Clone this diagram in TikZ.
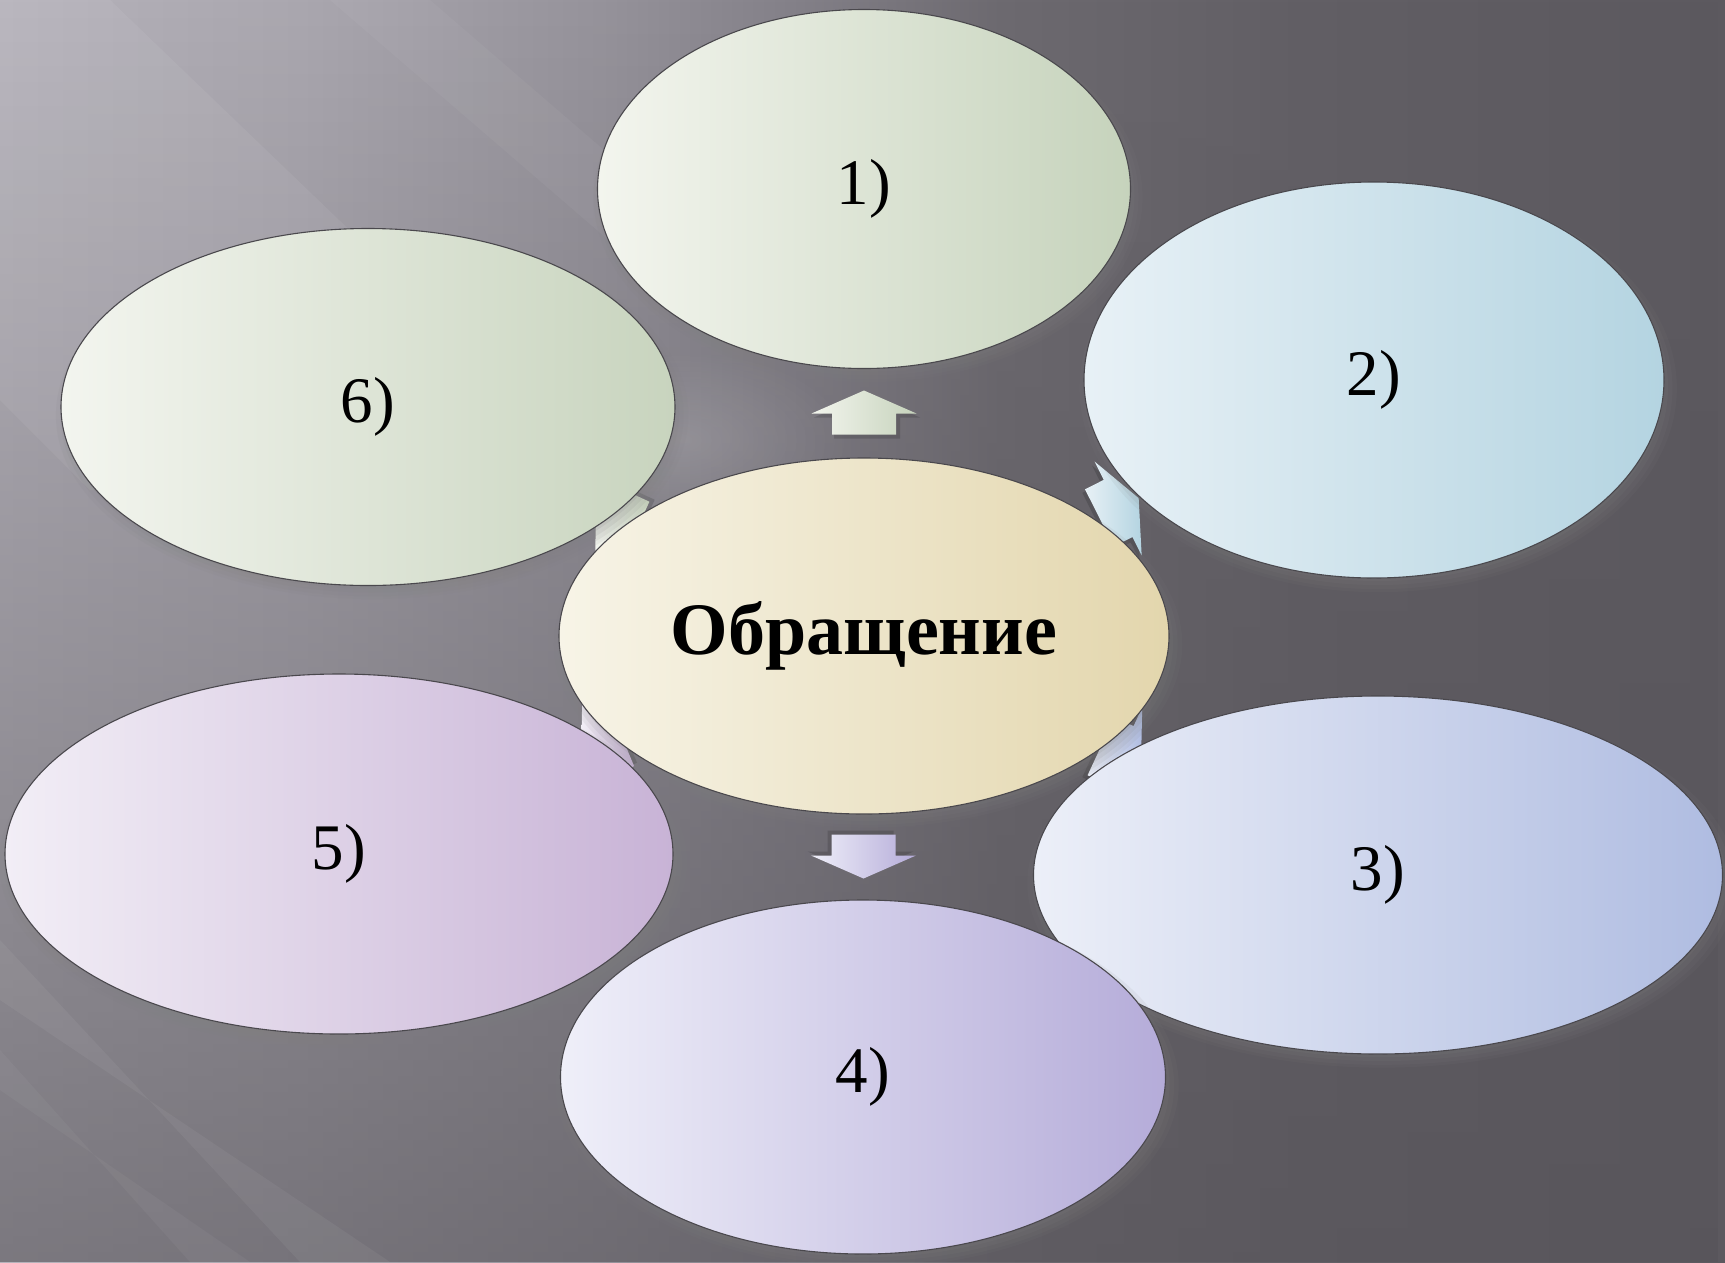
\documentclass[tikz,border=0pt]{standalone}
\usepackage{fontspec}
\setmainfont{Liberation Serif}
\usetikzlibrary{shapes.geometric,calc,shadows,fadings}
\definecolor{ea}{HTML}{F3F5EE}\definecolor{eb}{HTML}{C6D3BC}
\definecolor{fa}{HTML}{E8F1F6}\definecolor{fb}{HTML}{B4D4E1}
\definecolor{ga}{HTML}{ECEFF8}\definecolor{gb}{HTML}{AFBCE1}
\definecolor{ha}{HTML}{EFEFF9}\definecolor{hb}{HTML}{B5ACD9}
\definecolor{ia}{HTML}{F2EEF6}\definecolor{ib}{HTML}{C8B3D6}
\definecolor{ja}{HTML}{F3F5EF}\definecolor{jb}{HTML}{C8D4BE}
\definecolor{ca}{HTML}{F7F4E7}\definecolor{cb}{HTML}{E3D6AD}
\definecolor{edgegray}{HTML}{4A484D}
\definecolor{bg1}{HTML}{B6B3BB}\definecolor{bg2}{HTML}{AAA7AF}
\definecolor{bg3}{HTML}{96939B}\definecolor{bg4}{HTML}{838088}
\definecolor{bg5}{HTML}{6D6A70}\definecolor{bg6}{HTML}{625F65}
\definecolor{bg7}{HTML}{5C595F}\definecolor{bgdark}{HTML}{57545A}
\pgfdeclarehorizontalshading{bgsh}{100bp}{color(0bp)=(bg1); color(25bp)=(bg1); color(33.7bp)=(bg2); color(42.4bp)=(bg3); color(48.2bp)=(bg4); color(54bp)=(bg5); color(62.7bp)=(bg6); color(75bp)=(bg7); color(100bp)=(bg7)}
\tikzfading[name=fadedn, top color=transparent!100, middle color=transparent!88, bottom color=transparent!38]
\tikzfading[name=glowfade, inner color=transparent!0, outer color=transparent!100]
\tikzset{
  softshadow/.style={
    drop shadow={shadow xshift=4pt, shadow yshift=-8pt, opacity=0.09, shadow scale=1.03},
    drop shadow={shadow xshift=4pt, shadow yshift=-8pt, opacity=0.10, shadow scale=1.015},
    drop shadow={shadow xshift=4pt, shadow yshift=-7pt, opacity=0.12, shadow scale=1.0},
    drop shadow={shadow xshift=3pt, shadow yshift=-5pt, opacity=0.14, shadow scale=0.99}},
  oval/.style={ellipse, draw=edgegray, line width=1.1pt, inner sep=0pt, softshadow},
  numtext/.style={font=\fontsize{65}{70}\selectfont, text=black},
  pics/blkarrow/.style 2 args={code={
    \fill[black, opacity=0.14] (-30,26) -- (-30,5) -- (-50,5) -- (3,-18) -- (56,5) -- (36,5) -- (36,26) -- cycle;
    \shade[left color=#1, right color=#2] (-32,22) -- (-32,1) -- (-52.5,1) -- (0,-22) -- (52.5,1) -- (32,1) -- (32,22) -- cycle;
  }}
}
\newcommand\lowered[1]{\raisebox{-6pt}{#1}}
\begin{document}
\begin{tikzpicture}[x=1pt,y=-1pt]
\useasboundingbox (0,0) rectangle (1725,1262);
% background
\begin{scope}
\clip (0,0) rectangle (1725,1262);
\shade[shading=bgsh] (0,0) rectangle (1725,1262);
\fill[bgdark, path fading=fadedn] (0,0) rectangle (1725,1262);
\fill[white, opacity=0.06] (0,0) -- (110,0) -- (620,490) -- (90,490) -- (0,400) -- cycle;
\fill[white, opacity=0.04] (330,0) -- (430,0) -- (720,250) -- (620,250) -- cycle;
\fill[white, opacity=0.05] (0,940) -- (0,1000) -- (390,1262) -- (300,1262) -- cycle;
\fill[white, opacity=0.04] (0,1050) -- (0,1090) -- (250,1262) -- (190,1262) -- cycle;
\fill[white, opacity=0.14, path fading=glowfade] (680,440) ellipse [x radius=170, y radius=90];
\end{scope}
% positions
\coordinate (pc) at (864,636);
\coordinate (p1) at (864,189);
\coordinate (p2) at (1374,380);
\coordinate (p3) at (1378,875);
\coordinate (p4) at (863,1077);
\coordinate (p5) at (339,854);
\coordinate (p6) at (368,407);
% arrows (behind shapes)
\pic[rotate=0] at ($(pc)!0.5!(p1)$) {blkarrow={ea}{eb}};
\pic[rotate=-63.35] at ($(pc)!0.5!(p2)$) {blkarrow={fa}{fb}};
\pic[rotate=-114.9] at ($(pc)!0.5!(p3)$) {blkarrow={ga}{gb}};
\pic[rotate=180] at ($(pc)!0.5!(p4)$) {blkarrow={ha}{hb}};
\pic[rotate=112.55] at ($(pc)!0.5!(p5)$) {blkarrow={ia}{ib}};
\pic[rotate=65.2] at ($(pc)!0.5!(p6)$) {blkarrow={ja}{jb}};
% center
\node[oval, minimum width=610pt, minimum height=356pt, left color=ca, right color=cb,
      font=\fontsize{74}{80}\selectfont\bfseries] (c) at (pc) {\raisebox{-4pt}{Обращение}};
% outer shapes
\node[oval, minimum width=533pt, minimum height=359pt, left color=ea, right color=eb, numtext] (e1) at (p1) {\lowered{1)}};
\node[oval, minimum width=580pt, minimum height=396pt, left color=fa, right color=fb, numtext] (e2) at (p2) {\lowered{2)}};
\node[oval, minimum width=689pt, minimum height=358pt, left color=ga, right color=gb, numtext] (e3) at (p3) {\lowered{3)}};
\node[oval, minimum width=605pt, minimum height=354pt, left color=ha, right color=hb, numtext] (e4) at (p4) {\lowered{4)}};
\node[oval, minimum width=668pt, minimum height=360pt, left color=ia, right color=ib, numtext] (e5) at (p5) {\lowered{5)}};
\node[oval, minimum width=614pt, minimum height=357pt, left color=ja, right color=jb, numtext] (e6) at (p6) {\lowered{6)}};
\end{tikzpicture}
\end{document}
